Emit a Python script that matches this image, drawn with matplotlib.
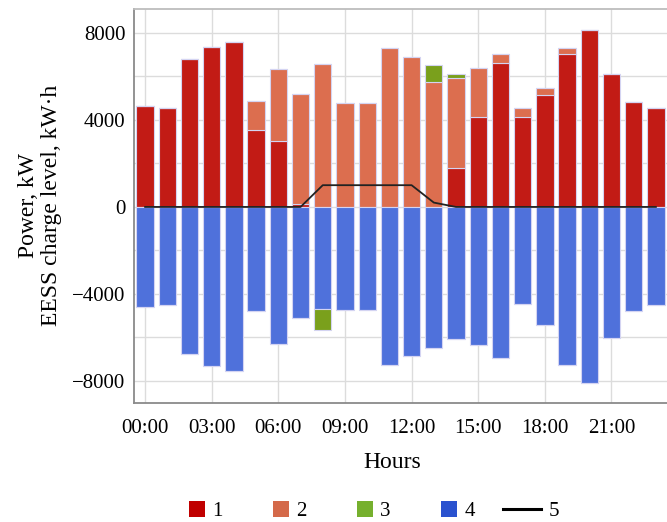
import numpy as np
import matplotlib.pyplot as plt
from matplotlib.patches import Patch, Rectangle
from matplotlib.lines import Line2D
from matplotlib.legend_handler import HandlerPatch

plt.rcParams['font.family'] = ['Liberation Serif', 'DejaVu Serif']

hours = np.arange(24)
# 1 - dark red, 2 - orange, 3 - green (EESS), 4 - blue (load), 5 - charge level
s1 = [4630, 4570, 6820, 7360, 7590, 3560, 3040, 120, 0, 0, 0, 0,
      0, 0, 1810, 4140, 6610, 4140, 5140, 7050, 8140, 6090, 4830, 4570]
s2 = [0, 0, 0, 0, 0, 1300, 3310, 5050, 6550, 4780, 4780, 7310,
      6900, 5730, 4140, 2270, 400, 400, 350, 250, 0, 0, 0, 0]
s3 = [0, 0, 0, 0, 0, 0, 0, 0, -980, 0, 0, 0,
      0, 800, 165, 0, 0, 0, 0, 0, 0, 0, 0, 0]
s4 = [-4580, -4520, -6770, -7290, -7520, -4800, -6280, -5100, -4700, -4720, -4720, -7270,
      -6850, -6470, -6050, -6360, -6940, -4470, -5450, -7250, -8110, -6040, -4780, -4520]
level = [0, 0, 0, 0, 0, 0, 0, 0, 1000, 1000, 1000, 1000,
         1000, 200, 0, 0, 0, 0, 0, 0, 0, 0, 0, 0]
xticks = [0, 3, 6, 9, 12, 15, 18, 21]
xlabels = ['00:00', '03:00', '06:00', '09:00', '12:00', '15:00', '18:00', '21:00']

bar_cols = ['#c21b15', '#dc6e4f', '#7aa01c', '#4f71db']
leg_cols = ['#c00000', '#d4694a', '#76b02e', '#2a52cf']

s1 = np.array(s1); s2 = np.array(s2); s3 = np.array(s3); s4 = np.array(s4)

fig = plt.figure(figsize=(6.67, 5.22), dpi=100)
ax = fig.add_axes([134/667, 119.3/522, 533/667, 393.7/522])

w = 0.78
ek = dict(edgecolor='#d4d4f2', linewidth=0.8, zorder=2)
ax.bar(hours, s1, w, color=bar_cols[0], **ek)
ax.bar(hours, s2, w, bottom=s1, color=bar_cols[1], **ek)
pos3 = np.where(s3 > 0, s3, 0)
neg3 = np.where(s3 < 0, s3, 0)
ax.bar(hours, pos3, w, bottom=s1 + s2, color=bar_cols[2], **ek)
ax.bar(hours, s4, w, color=bar_cols[3], **ek)
ax.bar(hours, neg3, w, bottom=s4, color=bar_cols[2], **ek)
ax.plot(hours, level, color='#222222', lw=1.3, zorder=3)

ax.set_xlim(-0.5, 23.5)
ax.set_ylim(-9000, 9100)
ax.set_xticks(xticks)
ax.set_xticklabels(xlabels)
ax.set_yticks([-8000, -4000, 0, 4000, 8000])
ax.set_yticks([-6000, -2000, 2000, 6000], minor=True)
ax.tick_params(axis='both', which='both', length=0, labelsize=15)
ax.tick_params(axis='y', pad=6)
ax.tick_params(axis='x', pad=12)
ax.grid(True, which='both', color='#dcdcdc', lw=1, zorder=0)
ax.set_axisbelow(True)

for sp in ['left', 'bottom']:
    ax.spines[sp].set_color('#8a8a8a')
    ax.spines[sp].set_linewidth(1.3)
ax.spines['top'].set_color('#bdbdbd')
ax.spines['top'].set_linewidth(1.3)
ax.spines['right'].set_visible(False)

ax.set_xlabel('Hours', fontsize=17)
ax.xaxis.set_label_coords(0.485, -0.124)
ax.set_ylabel('Power, kW\nEESS charge level, kW·h', fontsize=17, linespacing=1.1)
ax.yaxis.set_label_coords(-0.135, 0.5)


# small square at the right end of the (wider) handle box
def square(legend, orig_handle, xdescent, ydescent, width, height, fontsize):
    s = 0.77 * fontsize
    return Rectangle((-xdescent + width - s, -ydescent + (height - s) / 2), s, s)


handles = [Patch(facecolor=c, edgecolor='none') for c in leg_cols]
handles.append(Line2D([0], [0], color='black', lw=2.2))
fig.legend(handles, ['1', '2', '3', '4', '5'], loc='center', ncol=5,
           bbox_to_anchor=(0.544, 0.021), frameon=False, fontsize=15,
           handlelength=1.82, handleheight=0.77, columnspacing=1.38, handletextpad=0.34,
           handler_map={Patch: HandlerPatch(patch_func=square)})

fig.savefig('out.png', dpi=100)
